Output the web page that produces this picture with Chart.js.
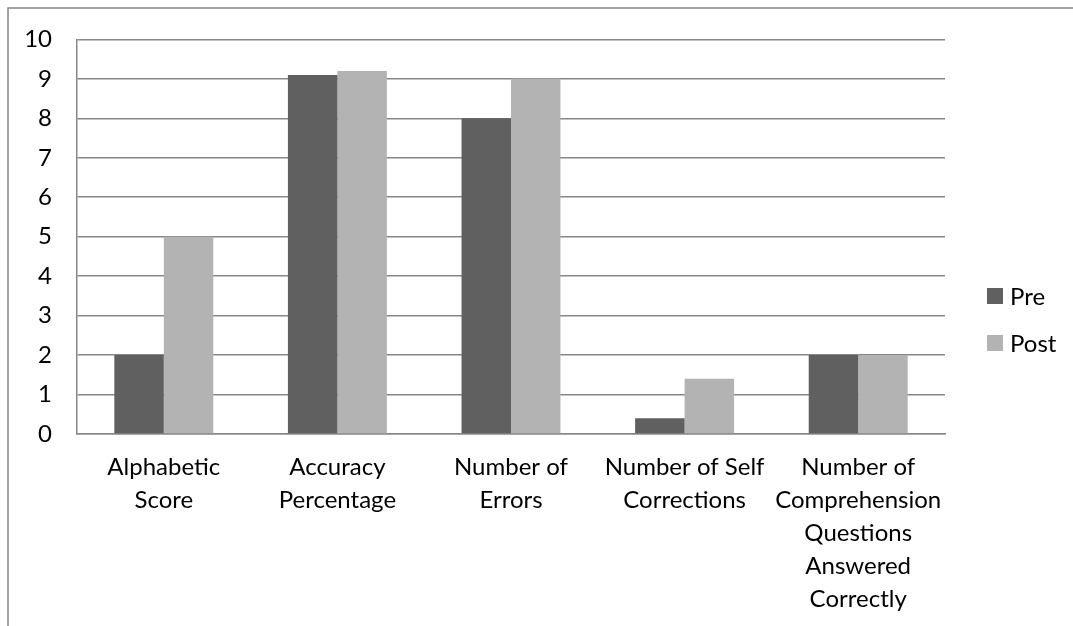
<!DOCTYPE html>
<html>
<head>
<meta charset="utf-8">
<script src="https://cdn.jsdelivr.net/npm/chart.js@4/dist/chart.umd.min.js"></script>
<style>
  html, body { margin: 0; padding: 0; background: #fff; }
  #wrap { width: 1073px; height: 626px; position: relative; }
</style>
</head>
<body>
<div id="wrap"><canvas id="chart" width="1073" height="626"></canvas></div>
<script>
var categories = [
    ['Alphabetic', 'Score'],
    ['Accuracy', 'Percentage'],
    ['Number of', 'Errors'],
    ['Number of Self', 'Corrections'],
    ['Number of', 'Comprehension', 'Questions', 'Answered', 'Correctly']
];
var preValues = [2, 9.1, 8, 0.4, 2];
var postValues = [5, 9.2, 9, 1.4, 2];
var seriesNames = ['Pre', 'Post'];
var seriesColors = ['#606060', '#b3b3b3'];

var fontFamily = 'Lato, "Open Sans", sans-serif';
var gridColor = '#878787';

// outer frame, only top and left edges are visible in the picture
var framePlugin = {
    id: 'frame',
    beforeDraw: function (chart) {
        var ctx = chart.ctx;
        ctx.save();
        ctx.fillStyle = '#fff';
        ctx.fillRect(0, 0, chart.width, chart.height);
        ctx.strokeStyle = gridColor;
        ctx.lineWidth = 1.5;
        ctx.beginPath();
        ctx.moveTo(8, chart.height);
        ctx.lineTo(8, 8);
        ctx.lineTo(chart.width, 8);
        ctx.stroke();
        ctx.restore();
    }
};

// legend on the right, drawn from dataset info
var legendPlugin = {
    id: 'sideLegend',
    afterDraw: function (chart) {
        var ctx = chart.ctx;
        var ys = [296, 343];
        ctx.save();
        ctx.font = '24px ' + fontFamily;
        ctx.textBaseline = 'middle';
        chart.data.datasets.forEach(function (ds, i) {
            ctx.fillStyle = ds.backgroundColor;
            ctx.fillRect(987, ys[i] - 8, 16, 16);
            ctx.fillStyle = '#000';
            ctx.fillText(ds.label, 1010, ys[i] + 1);
        });
        ctx.restore();
    }
};

var config = {
    type: 'bar',
    data: {
        labels: categories,
        datasets: [
            {
                label: seriesNames[0],
                data: preValues,
                backgroundColor: seriesColors[0],
                barPercentage: 1,
                categoryPercentage: 0.57
            },
            {
                label: seriesNames[1],
                data: postValues,
                backgroundColor: seriesColors[1],
                barPercentage: 1,
                categoryPercentage: 0.57
            }
        ]
    },
    options: {
        responsive: false,
        animation: false,
        layout: {
            padding: { left: 0, top: 38, right: 128, bottom: 0 }
        },
        plugins: {
            legend: { display: false },
            tooltip: { enabled: false }
        },
        scales: {
            x: {
                grid: { display: false, drawTicks: false },
                border: { display: true, color: gridColor, width: 1.5 },
                ticks: {
                    color: '#000',
                    padding: 17,
                    autoSkip: false,
                    maxRotation: 0,
                    minRotation: 0,
                    font: { family: fontFamily, size: 24, lineHeight: 1.375 }
                },
                afterFit: function (scale) {
                    scale.height = 192;
                }
            },
            y: {
                min: 0,
                max: 10,
                ticks: {
                    stepSize: 1,
                    color: '#000',
                    padding: 25,
                    font: { family: fontFamily, size: 24 }
                },
                grid: { color: gridColor, lineWidth: 1.5, drawTicks: false },
                border: { display: true, color: gridColor, width: 1.5 },
                afterFit: function (scale) {
                    scale.width = 77;
                }
            }
        }
    },
    plugins: [framePlugin, legendPlugin]
};

new Chart(document.getElementById('chart'), config);
</script>
</body>
</html>
